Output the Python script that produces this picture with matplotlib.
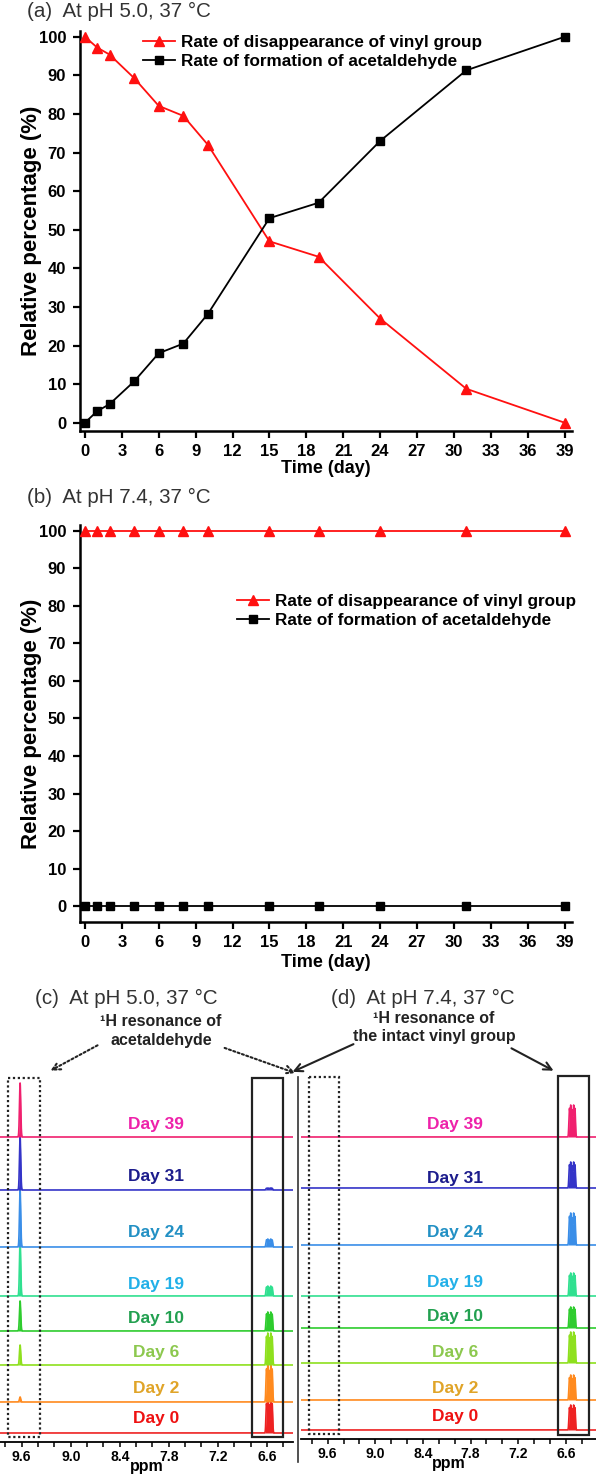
import numpy as np
import matplotlib
matplotlib.use("Agg")
import matplotlib.pyplot as plt
from matplotlib.patches import Rectangle

plt.rcParams["font.family"] = ["Liberation Sans", "DejaVu Sans"]

W, H = 596, 1474

# ── time course data ──────────────────────────────────────────────────────────
days = [0, 1, 2, 4, 6, 8, 10, 15, 19, 24, 31, 39]
vinyl_ph50 = [100, 97.2, 95.4, 89.3, 82.1, 79.5, 72.0, 47.0, 43.0, 27.0, 8.8, 0.0]
acet_ph50 = [0.0, 3.0, 4.8, 10.7, 18.0, 20.5, 28.2, 53.0, 57.0, 73.0, 91.3, 100]
vinyl_ph74 = [100, 100, 100, 100, 100, 100, 100, 100, 100, 100, 100, 100]
acet_ph74 = [0, 0, 0, 0, 0, 0, 0, 0, 0, 0, 0, 0]
x_ticks = list(range(0, 40, 3))
y_ticks = list(range(0, 101, 10))
lbl_vinyl = "Rate of disappearance of vinyl group"
lbl_acet = "Rate of formation of acetaldehyde"

# ── NMR data (peak heights in px) ─────────────────────────────────────────────
nmr_days = [0, 2, 6, 10, 19, 24, 31, 39]
ald_ppm = 9.62
vinyl_ppm_c = 6.57
vinyl_ppm_d = 6.52
ald_height_c = [0, 5, 20, 30, 56, 57, 53, 54]
vinyl_height_c = [33, 37, 32, 19, 10, 8, 2, 0]
vinyl_height_d = [25, 25, 31, 21, 23, 32, 26, 32]
line_colors = ["#ee2222", "#ff8a1e", "#8ee01e", "#2ecc2e", "#30e090", "#3a8ee8", "#3434c8", "#f0206e"]
label_colors = ["#ee1111", "#e0a428", "#8cc84e", "#22a050", "#22b0e8", "#2290c4", "#1c1c8c", "#ee22aa"]
ppm_ticks = [9.6, 9.0, 8.4, 7.8, 7.2, 6.6]

# layout (pixel positions)
base_c = [1433, 1402, 1365, 1331, 1296, 1247, 1190, 1137]
base_d = [1430, 1400, 1363, 1328, 1296, 1245, 1188, 1137]
label_y_c = [1418, 1389, 1352, 1318, 1284, 1233, 1177, 1125]
label_y_d = [1417, 1388, 1352, 1316, 1283, 1233, 1178, 1125]

fig = plt.figure(figsize=(W / 100, H / 100), dpi=100)


def px_axes(x0, y0, x1, y1, **kw):
    return fig.add_axes([x0 / W, 1 - y1 / H, (x1 - x0) / W, (y1 - y0) / H], **kw)


def time_panel(ax, vinyl, acet, ylo, legend_xy, top_px, bot_px, xlab_px):
    ax.plot(days, vinyl, color="#ff1010", lw=1.3, marker="^", ms=7.5, label=lbl_vinyl, clip_on=False, zorder=3)
    ax.plot(days, acet, color="black", lw=1.3, marker="s", ms=5.5, label=lbl_acet, clip_on=False, zorder=3)
    ax.set_xlim(-0.4, 39.6)
    ax.set_ylim(ylo, 101.5)
    ax.set_xticks(x_ticks)
    ax.set_yticks(y_ticks)
    for s in ("top", "right"):
        ax.spines[s].set_visible(False)
    for s in ("left", "bottom"):
        ax.spines[s].set_linewidth(1.8)
    ax.tick_params(direction="out", length=5, width=1.6, labelsize=12)
    ax.tick_params(axis="x", pad=4.5)
    ax.tick_params(axis="y", pad=5)
    for t in ax.get_xticklabels() + ax.get_yticklabels():
        t.set_fontweight("bold")
    h = bot_px - top_px
    ax.set_xlabel("Time (day)", fontsize=13, fontweight="bold", va="top")
    ax.xaxis.set_label_coords(0.5, (bot_px - xlab_px) / h)
    ax.set_ylabel("Relative percentage (%)", fontsize=16, fontweight="bold")
    ax.yaxis.set_label_coords((42 - 80) / 492, 0.5)
    ax.legend(loc="center left", bbox_to_anchor=(legend_xy[0] / W, 1 - legend_xy[1] / H),
              bbox_transform=fig.transFigure, frameon=False, borderpad=0, borderaxespad=0,
              handlelength=1.9, handletextpad=0.3, labelspacing=0.2,
              prop=dict(size=12.3, weight="bold"))


ax_a = px_axes(80, 31, 572, 431)
time_panel(ax_a, vinyl_ph50, acet_ph50, -2.15, (143, 52), 31, 431, 460)

ax_b = px_axes(80, 525, 572, 922)
time_panel(ax_b, vinyl_ph74, acet_ph74, -4.2, (237, 611), 525, 922, 954)


def nmr_panel(x0, x1, y_axis, ppm_left, ppm_right, vinyl_ppm, ald_h, vin_h, bases):
    ax = px_axes(x0, 1065, x1, y_axis)
    ppm = np.linspace(ppm_left, ppm_right, 4000)
    ald = np.exp(-((ppm - ald_ppm) / 0.011) ** 2)
    vin = sum(a * np.exp(-((ppm - vinyl_ppm - o) / 0.009) ** 2)
              for o, a in zip([-0.035, -0.018, 0.0, 0.018, 0.035], [0.9, 1.0, 0.85, 1.0, 0.9]))
    vin = vin / vin.max()
    for i in range(len(nmr_days)):
        y = bases[i] - ald_h[i] * ald - vin_h[i] * vin
        ax.fill_between(ppm, bases[i], y, color=line_colors[i], lw=0, zorder=2 + i)
        ax.plot(ppm, y, color=line_colors[i], lw=1.2, zorder=2 + i)
    ax.set_xlim(ppm_left, ppm_right)
    ax.set_ylim(y_axis, 1065)
    ax.set_yticks([])
    for s in ("top", "right", "left"):
        ax.spines[s].set_visible(False)
    ax.spines["bottom"].set_linewidth(1.3)
    ax.set_xticks(ppm_ticks)
    ax.set_xticks(np.arange(6.4, 9.9, 0.2), minor=True)
    ax.tick_params(axis="x", which="both", direction="out", length=3.5, width=1.1, labelsize=10, pad=2)
    ax.set_xticklabels([f"{v:.1f}" for v in ppm_ticks], fontweight="bold")
    ax.set_xlabel("ppm", fontsize=11.5, fontweight="bold", labelpad=-3)
    ax.patch.set_alpha(0)
    return ax


nmr_panel(0, 293, 1442, 9.866, 6.28, vinyl_ppm_c, ald_height_c, vinyl_height_c, base_c)
nmr_panel(301, 596, 1439, 9.936, 6.22, vinyl_ppm_d,
          [0, 0, 0, 0, 0, 0, 0, 0], vinyl_height_d, base_d)

# ── overlay: titles, boxes, arrows ────────────────────────────────────────────
ov = fig.add_axes([0, 0, 1, 1], zorder=10)
ov.set_xlim(0, W)
ov.set_ylim(H, 0)
ov.axis("off")
ov.patch.set_alpha(0)

title_kw = dict(fontsize=14.8, color="#333333", va="center", ha="left")
ov.text(27, 11, "(a)  At pH 5.0, 37 °C", **title_kw)
ov.text(27, 497, "(b)  At pH 7.4, 37 °C", **title_kw)
ov.text(35, 998, "(c)  At pH 5.0, 37 °C", **title_kw)
ov.text(331, 998, "(d)  At pH 7.4, 37 °C", **title_kw)

note_kw = dict(fontsize=11.5, fontweight="bold", color="#222222", ha="center", va="center")
ov.text(161, 1021, "¹H resonance of", **note_kw)
ov.text(161, 1040, "acetaldehyde", **note_kw)
ov.text(434, 1018, "¹H resonance of", **note_kw)
ov.text(434, 1037, "the intact vinyl group", **note_kw)

for i, d in enumerate(nmr_days):
    lk = dict(fontsize=12.5, fontweight="bold", color=label_colors[i], ha="center", va="center")
    ov.text(156, label_y_c[i], f"Day {d}", **lk)
    ov.text(455, label_y_d[i], f"Day {d}", **lk)

ov.add_patch(Rectangle((8, 1078), 32, 359, fill=False, ls=(0, (1, 1.2)), lw=1.6, ec="#222222"))
ov.add_patch(Rectangle((252, 1078), 31, 359, fill=False, lw=1.6, ec="#222222"))
ov.add_patch(Rectangle((309, 1077), 30, 357, fill=False, ls=(0, (1, 1.2)), lw=1.6, ec="#222222"))
ov.add_patch(Rectangle((558, 1076), 31, 359, fill=False, lw=1.6, ec="#222222"))
ov.plot([297.5, 297.5], [1077, 1462], color="#333333", lw=1.2)

dotted = dict(arrowstyle="->", ls=(0, (1, 1.2)), lw=1.5, color="#222222", mutation_scale=14)
solid = dict(arrowstyle="->", lw=1.5, color="#222222", mutation_scale=14)
ov.annotate("", xy=(48, 1072), xytext=(100, 1044), arrowprops=dotted)
ov.annotate("", xy=(298, 1074), xytext=(222, 1047), arrowprops=dotted)
ov.annotate("", xy=(290, 1073), xytext=(356, 1043), arrowprops=solid)
ov.annotate("", xy=(556, 1072), xytext=(509, 1047), arrowprops=solid)

fig.savefig("out.png", dpi=100, facecolor="white")
